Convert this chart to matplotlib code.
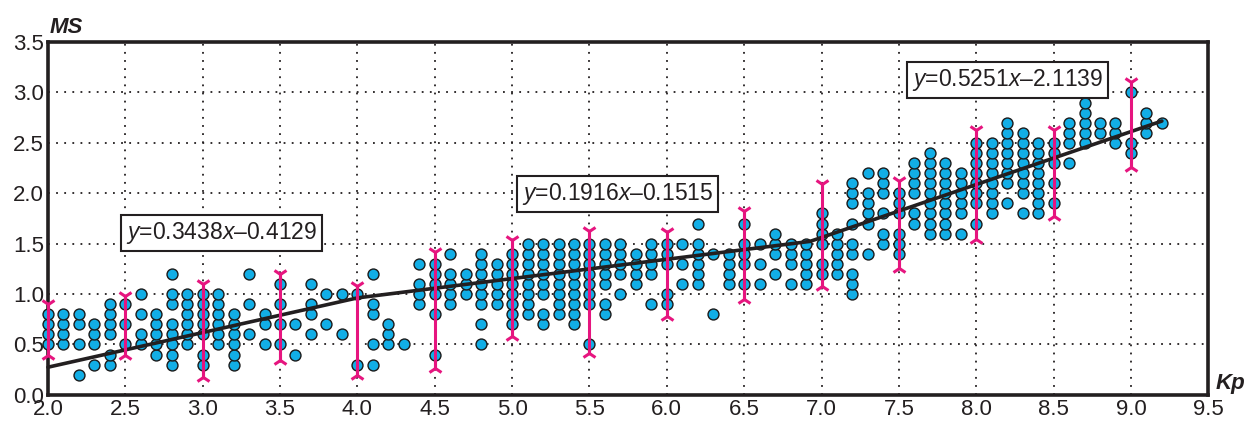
import matplotlib
matplotlib.use("Agg")
import matplotlib.pyplot as plt
import numpy as np

plt.rcParams["font.family"] = ["Liberation Sans", "DejaVu Sans"]
plt.rcParams["mathtext.fontset"] = "custom"
plt.rcParams["mathtext.rm"] = "Liberation Sans"
plt.rcParams["mathtext.it"] = "Liberation Sans:italic"

# Observations: Kp column and the MS values recorded at that Kp
kp_columns = [2.0, 2.1, 2.2, 2.3, 2.4, 2.5, 2.6, 2.7, 2.8, 2.9,
              3.0, 3.1, 3.2, 3.3, 3.4, 3.5, 3.6, 3.7, 3.8, 3.9,
              4.0, 4.1, 4.2, 4.3, 4.4, 4.5, 4.6, 4.7, 4.8, 4.9,
              5.0, 5.1, 5.2, 5.3, 5.4, 5.5, 5.6, 5.7, 5.8, 5.9,
              6.0, 6.1, 6.2, 6.3, 6.4, 6.5, 6.6, 6.7, 6.8, 6.9,
              7.0, 7.1, 7.2, 7.3, 7.4, 7.5, 7.6, 7.7, 7.8, 7.9,
              8.0, 8.1, 8.2, 8.3, 8.4, 8.5, 8.6, 8.7, 8.8, 8.9,
              9.0, 9.1, 9.2]
ms_columns = [
    [0.5, 0.6, 0.7, 0.8], [0.5, 0.6, 0.7, 0.8], [0.2, 0.5, 0.7, 0.8],
    [0.3, 0.5, 0.6, 0.7], [0.3, 0.4, 0.6, 0.7, 0.8, 0.9], [0.5, 0.7, 0.9],
    [0.5, 0.6, 0.8, 1.0], [0.4, 0.5, 0.6, 0.7, 0.8],
    [0.3, 0.4, 0.5, 0.6, 0.7, 0.9, 1.0, 1.2], [0.5, 0.6, 0.7, 0.8, 0.9, 1.0],
    [0.3, 0.4, 0.6, 0.7, 0.8, 0.9, 1.0], [0.5, 0.6, 0.7, 0.8, 0.9, 1.0],
    [0.3, 0.4, 0.5, 0.6, 0.7, 0.8], [0.6, 0.9, 1.2], [0.5, 0.7, 0.8],
    [0.5, 0.7, 0.9, 1.1], [0.4, 0.7], [0.6, 0.8, 0.9, 1.1], [0.7, 1.0],
    [0.6, 1.0],
    [0.3, 1.0], [0.3, 0.5, 0.8, 0.9, 1.2], [0.5, 0.6, 0.7], [0.5],
    [0.9, 1.0, 1.1, 1.3], [0.4, 0.8, 1.0, 1.1, 1.2, 1.3],
    [0.9, 1.0, 1.1, 1.2, 1.4], [1.0, 1.1, 1.2],
    [0.5, 0.7, 0.9, 1.0, 1.1, 1.2, 1.3, 1.4], [0.9, 1.0, 1.1, 1.2, 1.3],
    [0.7, 0.8, 0.9, 1.0, 1.1, 1.2, 1.3, 1.4],
    [0.8, 0.9, 1.0, 1.1, 1.2, 1.3, 1.4, 1.5],
    [0.7, 0.8, 1.0, 1.1, 1.2, 1.3, 1.4, 1.5],
    [0.8, 0.9, 1.0, 1.1, 1.2, 1.3, 1.4, 1.5],
    [0.7, 0.8, 0.9, 1.0, 1.1, 1.2, 1.3, 1.4, 1.5],
    [0.5, 0.9, 1.0, 1.1, 1.2, 1.3, 1.4, 1.5],
    [0.8, 0.9, 1.1, 1.2, 1.3, 1.4, 1.5], [1.0, 1.2, 1.3, 1.4, 1.5],
    [1.1, 1.2, 1.3, 1.4], [0.9, 1.2, 1.3, 1.4, 1.5],
    [0.9, 1.0, 1.3, 1.4, 1.5], [1.1, 1.3, 1.5], [1.1, 1.2, 1.3, 1.4, 1.5, 1.7],
    [0.8, 1.4], [1.1, 1.2, 1.3, 1.4], [1.1, 1.3, 1.4, 1.5, 1.7],
    [1.1, 1.3, 1.5], [1.2, 1.4, 1.5, 1.6], [1.1, 1.3, 1.4, 1.5],
    [1.1, 1.2, 1.3, 1.4, 1.5],
    [1.2, 1.3, 1.5, 1.6, 1.7, 1.8], [1.2, 1.3, 1.4, 1.5, 1.6],
    [1.0, 1.1, 1.2, 1.4, 1.5, 1.7, 1.9, 2.0, 2.1],
    [1.4, 1.7, 1.8, 1.9, 2.0, 2.2], [1.5, 1.6, 1.8, 2.0, 2.1, 2.2],
    [1.4, 1.5, 1.6, 1.8, 1.9, 2.0], [1.7, 1.8, 2.0, 2.1, 2.2, 2.3],
    [1.6, 1.7, 1.8, 1.9, 2.0, 2.1, 2.2, 2.3, 2.4],
    [1.6, 1.7, 1.8, 1.9, 2.0, 2.1, 2.2, 2.3],
    [1.6, 1.8, 1.9, 2.0, 2.1, 2.2],
    [1.7, 1.9, 2.0, 2.1, 2.2, 2.3, 2.4, 2.5],
    [1.8, 1.9, 2.0, 2.1, 2.2, 2.3, 2.4, 2.5],
    [1.9, 2.1, 2.2, 2.3, 2.4, 2.5, 2.6, 2.7],
    [1.8, 2.0, 2.1, 2.2, 2.3, 2.4, 2.5, 2.6],
    [1.8, 1.9, 2.0, 2.1, 2.2, 2.3, 2.4, 2.5],
    [1.9, 2.1, 2.3, 2.4, 2.5], [2.3, 2.5, 2.6, 2.7], [2.5, 2.6, 2.7, 2.8, 2.9],
    [2.6, 2.7], [2.5, 2.6, 2.7],
    [2.4, 2.5, 3.0], [2.6, 2.7, 2.8], [2.7],
]

# Spread of MS at each half-unit of Kp
range_kp = [2.0, 2.5, 3.0, 3.5, 4.0, 4.5, 5.0, 5.5, 6.0, 6.5, 7.0, 7.5, 8.0, 8.5, 9.0]
range_low = [0.40, 0.40, 0.18, 0.35, 0.20, 0.27, 0.58, 0.42, 0.78, 0.95,
             1.08, 1.26, 1.55, 1.77, 2.26]
range_high = [0.90, 0.98, 1.10, 1.20, 1.08, 1.42, 1.54, 1.63, 1.62, 1.82,
              2.09, 2.12, 2.63, 2.63, 3.10]

# Piecewise linear regression
fit_slopes = [0.3438, 0.1916, 0.5251]
fit_intercepts = [-0.4129, -0.1515, -2.1139]
fit_start, fit_break, fit_end = 2.0, 4.0, 9.2

kp = np.concatenate([[k] * len(v) for k, v in zip(kp_columns, ms_columns)])
ms = np.concatenate(ms_columns)

fig = plt.figure(figsize=(12.49, 4.21), dpi=100)
ax = fig.add_axes([0.0384, 0.062, 0.929, 0.838])

ax.scatter(kp, ms, s=62, facecolor="#12aee6", edgecolor="#1a1a1a",
           linewidth=1.0, zorder=3, clip_on=False)

# regression polyline: middle segment keeps its slope and joins its neighbours
y_break = fit_slopes[0] * fit_break + fit_intercepts[0]
mid_b = y_break - fit_slopes[1] * fit_break
x_knee = (mid_b - fit_intercepts[2]) / (fit_slopes[2] - fit_slopes[1])
line_x = [fit_start, fit_break, x_knee, fit_end]
line_y = [fit_slopes[0] * fit_start + fit_intercepts[0], y_break,
          fit_slopes[1] * x_knee + mid_b,
          fit_slopes[2] * fit_end + fit_intercepts[2]]
ax.plot(line_x, line_y, color="#231f20", lw=2.6, zorder=4,
        solid_joinstyle="round", solid_capstyle="round", clip_on=False)

mag = "#e6157f"
ax.vlines(range_kp, range_low, range_high, color=mag, lw=2.2, zorder=5,
          clip_on=False)
ax.plot(range_kp, range_high, ls="none", marker="1", ms=11, mew=2.2,
        color=mag, zorder=5, clip_on=False)
ax.plot(range_kp, range_low, ls="none", marker="2", ms=11, mew=2.2,
        color=mag, zorder=5, clip_on=False)

labels = [(3.12, 1.61), (5.68, 1.99), (8.20, 3.12)]
for (tx, ty), a, b in zip(labels, fit_slopes, fit_intercepts):
    ax.text(tx, ty, rf"$\mathit{{y}}$=${a:.4f}$$\mathit{{x}}$–{abs(b):.4f}",
            ha="center", va="center", fontsize=16.5, color="#231f20", zorder=6,
            bbox=dict(boxstyle="square,pad=0.22", fc="white", ec="#231f20",
                      lw=1.5))

ax.set_xlim(2.0, 9.5)
ax.set_ylim(0.0, 3.5)
ax.set_xticks(np.arange(2.0, 9.51, 0.5))
ax.set_yticks(np.arange(0.0, 3.51, 0.5))
ax.set_xticklabels([f"{v:.1f}" for v in np.arange(2.0, 9.51, 0.5)])
ax.set_yticklabels([f"{v:.1f}" for v in np.arange(0.0, 3.51, 0.5)])
ax.tick_params(length=0, labelsize=16, colors="#231f20", pad=3)
ax.grid(True, color="#231f20", lw=1.3, linestyle=(0, (1, 3.5)), zorder=1)
ax.set_axisbelow(True)
for sp in ax.spines.values():
    sp.set_linewidth(2.6)
    sp.set_color("#231f20")

fig.text(0.040, 0.922, "MS", fontsize=16, fontweight="bold", style="italic",
         color="#231f20", ha="left", va="baseline")
fig.text(0.973, 0.09, "Kp", fontsize=16, fontweight="bold", style="italic",
         color="#231f20", ha="left", va="center")

fig.savefig("out.png", dpi=100)
